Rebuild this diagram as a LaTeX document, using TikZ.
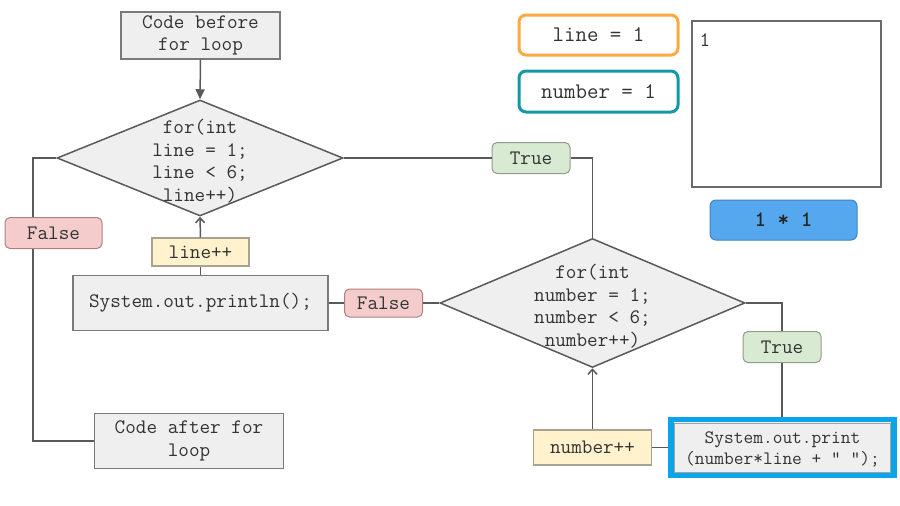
\documentclass[tikz,border=0pt]{standalone}
\usepackage{fontspec}
\usetikzlibrary{arrows.meta,shapes.geometric}
\definecolor{txt}{HTML}{333333}
\definecolor{ln}{HTML}{595959}
\definecolor{boxfill}{HTML}{EFEFEF}
\definecolor{boxline}{HTML}{7A7A7A}
\definecolor{yel}{HTML}{FFF2CC}
\definecolor{yelline}{HTML}{A8A293}
\definecolor{red}{HTML}{F4CCCC}
\definecolor{redline}{HTML}{B08080}
\definecolor{grn}{HTML}{D9EAD3}
\definecolor{grnline}{HTML}{8E9C89}
\definecolor{org}{HTML}{FFA940}
\definecolor{teal}{HTML}{1298A6}
\definecolor{bluefill}{HTML}{55A8EE}
\definecolor{blueline}{HTML}{3C84C4}
\definecolor{hl}{HTML}{0AA5E9}
\tikzset{
  every node/.style={text=txt, font=\ttfamily\fontsize{20.6}{22.5}\selectfont, inner sep=0pt},
  graybox/.style={draw=boxline, line width=1.2pt, fill=boxfill, align=center},
  yelbox/.style={draw=yelline, line width=1.2pt, fill=yel},
  falsebox/.style={draw=redline, line width=1pt, fill=red, rounded corners=5pt, minimum width=97pt, minimum height=31pt},
  truebox/.style={draw=grnline, line width=1pt, fill=grn, rounded corners=5pt, minimum width=78pt, minimum height=31pt},
  dia/.style={draw=ln, line width=1.5pt, fill=boxfill, diamond},
  conn/.style={draw=ln, line width=1.5pt},
  bigarrow/.style={conn, -{Triangle[length=10pt,width=9pt]}},
  smallarrow/.style={conn, -{Straight Barb[length=5pt,width=9pt,line width=1.5pt]}},
  varbox/.style={line width=3pt, rounded corners=7pt, minimum width=159pt, minimum height=40pt, fill=white, font=\ttfamily\fontsize{22.3}{24}\selectfont},
}
\begin{document}
\begin{tikzpicture}[x=1pt,y=-1pt]
\useasboundingbox (0,0) rectangle (900,506);

% nodes
\node[graybox, minimum width=159pt, minimum height=47pt] (before) at (200.5,35.5) {Code before\\for loop};
\node[dia, minimum width=286pt, minimum height=116pt] (d1) at (200,158) {};
\node[align=center] (d1t) at (200,161) {for(int\\line = 1;\\line < 6;\\line++)};
\node[truebox] (t1) at (531,158) {True};
\node[dia, minimum width=305pt, minimum height=129pt] (d2) at (592.5,303) {};
\node[align=center] (d2t) at (592.5,306) {for(int\\number = 1;\\number < 6;\\number++)};
\node[truebox] (t2) at (782,347) {True};
\node[draw=hl, line width=5.5pt, fill=boxfill, minimum width=223pt, minimum height=56pt] (printbox) at (782.5,447.5) {};
\node[draw=boxline!70, line width=0.8pt, minimum width=216pt, minimum height=49pt] (printin) at (782.5,447.5) {};
\node[align=center, font=\ttfamily\fontsize{18.9}{21}\selectfont] (printt) at (782.5,449) {System.out.print\\(number*line + " ");};
\node[yelbox, minimum width=118pt, minimum height=35pt] (nplus) at (592.5,447.5) {number++};
\node[falsebox, minimum width=78pt, minimum height=28pt] (f2) at (383.5,303) {False};
\node[graybox, minimum width=255pt, minimum height=55pt] (println) at (200.5,303) {System.out.println();};
\node[yelbox, minimum width=97pt, minimum height=28pt] (lplus) at (200.5,252) {line++};
\coordinate (c1) at (33,158);
\coordinate (c2) at (33,441);
\node[graybox, minimum width=189pt, minimum height=55pt] (after) at (189,441) {Code after for\\loop};
\coordinate (c3) at (592.5,158);
\coordinate (c4) at (782,303);

% connectors
\draw[bigarrow] (before.south) -- (d1.north);
\draw[conn] (d1.east) -- (t1.west);
\draw[conn] (t1.east) -- (c3) -- (d2.north);
\draw[conn] (d2.east) -- (c4) -- (t2.north);
\draw[conn] (t2.south) -- (printbox.north -| t2.south);
\draw[conn] (printbox.west) -- (nplus.east);
\draw[smallarrow] (nplus.north) -- (d2.south);
\draw[conn] (d2.west) -- (f2.east);
\draw[conn] (f2.west) -- (println.east);
\draw[conn] (println.north) -- (lplus.south);
\draw[smallarrow] (lplus.north) -- (d1.south);
\draw[conn] (d1.west) -- (c1) -- (c2) -- (after.west);
\node[falsebox] (f1) at (53.5,233) {False};

% right side panel
\node[varbox, draw=org] (vline) at (598.5,35) {line = 1};
\node[varbox, draw=teal, minimum height=41pt] (vnum) at (598.5,91.5) {number = 1};
\node[draw=ln!90, line width=2pt, minimum width=189pt, minimum height=166pt] (out) at (786,103.5) {};
\node[anchor=north west] (outt) at ([shift={(9,14)}]out.north west) {1};
\node[draw=blueline, line width=1pt, fill=bluefill, rounded corners=6pt, minimum width=147pt, minimum height=40pt, font=\ttfamily\bfseries\fontsize{22}{24}\selectfont, text=black!85] (mult) at (783.5,220) {1 * 1};
\end{tikzpicture}
\end{document}
